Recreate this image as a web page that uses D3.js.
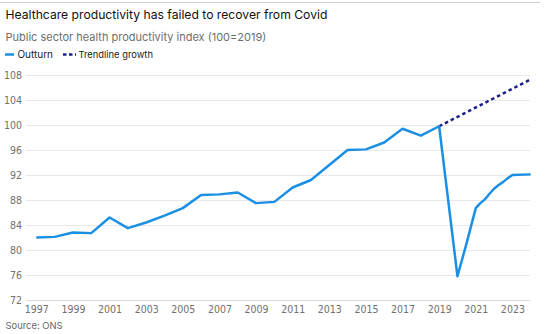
<!DOCTYPE html>
<html>
<head>
<meta charset="utf-8">
<script src="https://cdn.jsdelivr.net/npm/d3@7/dist/d3.min.js"></script>
<style>
  html, body { margin: 0; padding: 0; background: #fff; }
  svg { display: block; }
</style>
</head>
<body>
<svg id="chart" width="550" height="334"></svg>
<script>
// ---- Data ----
const outturnYears = [1997, 1998, 1999, 2000, 2001, 2002, 2003, 2004, 2005, 2006, 2007, 2008, 2009, 2010,
  2011, 2012, 2013, 2014, 2015, 2016, 2017, 2018, 2019, 2020, 2020.5, 2021, 2021.25, 2021.5,
  2021.75, 2022, 2022.25, 2022.5, 2022.75, 2023, 2024];
const outturnValues = [82.0, 82.1, 82.8, 82.7, 85.2, 83.5, 84.4, 85.5, 86.7, 88.8, 88.9, 89.2, 87.5, 87.7,
  90.0, 91.2, 93.6, 96.0, 96.1, 97.2, 99.4, 98.3, 99.8, 75.8, 81.1, 86.7, 87.5, 88.1,
  89.0, 89.8, 90.4, 90.9, 91.5, 92.0, 92.1];
const trendYears = [2019, 2024];
const trendValues = [99.8, 107.3];
const yTicks = [72, 76, 80, 84, 88, 92, 96, 100, 104, 108];
const xTicks = [1997, 1999, 2001, 2003, 2005, 2007, 2009, 2011, 2013, 2015, 2017, 2019, 2021, 2023];
const titleText = "Healthcare productivity has failed to recover from Covid";
const subtitleText = "Public sector health productivity index (100=2019)";
const legendLabels = ["Outturn", "Trendline growth"];
const sourceText = "Source: ONS";

// ---- Setup ----
const svg = d3.select("#chart");
const blue = "#1b8fe3";
const navy = "#1c1f8a";
const mainFont = "Inter, 'Open Sans', 'Liberation Sans', sans-serif";
const tickFont = "'Liberation Sans Narrow', 'DejaVu Sans Condensed', 'Liberation Sans', sans-serif";

function fitText(sel, targetWidth) {
  const node = sel.node();
  const fs = parseFloat(sel.attr("font-size"));
  const w = node.getComputedTextLength();
  if (w > 0) sel.attr("font-size", (fs * targetWidth / w).toFixed(2));
}

// top rule
svg.append("line").attr("x1", 0).attr("x2", 540).attr("y1", 2.5).attr("y2", 2.5)
  .attr("stroke", "#d0d0d0").attr("stroke-width", 1);

const title = svg.append("text").attr("x", 5.5).attr("y", 18.5)
  .attr("font-family", mainFont).attr("font-size", 13).attr("fill", "#111")
  .attr("font-weight", 400).text(titleText);
fitText(title, 322);

const subtitle = svg.append("text").attr("x", 5.5).attr("y", 40.5)
  .attr("font-family", mainFont).attr("font-size", 11).attr("fill", "#6e6e6e")
  .text(subtitleText);
fitText(subtitle, 261);

// legend
const lg = svg.append("g");
lg.append("line").attr("x1", 5).attr("x2", 14).attr("y1", 54.5).attr("y2", 54.5)
  .attr("stroke", blue).attr("stroke-width", 2.5);
const l1 = lg.append("text").attr("x", 17.5).attr("y", 58)
  .attr("font-family", mainFont).attr("font-size", 10).attr("fill", "#222").text(legendLabels[0]);
fitText(l1, 35.5);
lg.append("line").attr("x1", 63).attr("x2", 76).attr("y1", 54.5).attr("y2", 54.5)
  .attr("stroke", navy).attr("stroke-width", 2.5).attr("stroke-dasharray", "3.5,2.5");
const l2 = lg.append("text").attr("x", 78.5).attr("y", 58)
  .attr("font-family", mainFont).attr("font-size", 10).attr("fill", "#222").text(legendLabels[1]);
fitText(l2, 74.5);

// scales
const x = d3.scaleLinear().domain([1997, 2024]).range([36.3, 530.7]);
const y = d3.scaleLinear().domain([72, 108]).range([300, 75]);
const gridX0 = 26, gridX1 = 530;

// y grid + labels
const yAxis = d3.axisLeft(y).tickValues(yTicks).tickSize(0).tickPadding(0).tickFormat(d3.format("d"));
const yg = svg.append("g").attr("transform", `translate(${gridX0},0)`).call(yAxis);
yg.select(".domain").remove();
yg.selectAll(".tick line").attr("x1", 0).attr("x2", gridX1 - gridX0)
  .attr("stroke", d => d === 72 ? "#dcdcdc" : "#e8e8e8").attr("stroke-width", 1);
yg.selectAll(".tick text").attr("x", -4).attr("dy", "0.35em")
  .attr("font-family", tickFont).attr("font-size", 10.5).attr("fill", "#707070");

// x labels
const xAxis = d3.axisBottom(x).tickValues(xTicks).tickSize(0).tickPadding(0).tickFormat(d3.format("d"));
const xg = svg.append("g").attr("transform", `translate(0,300)`).call(xAxis);
xg.select(".domain").remove();
xg.selectAll(".tick text").attr("y", 6).attr("dy", "0.71em")
  .attr("font-family", tickFont).attr("font-size", 10.5).attr("fill", "#707070");

// lines
const line = d3.line().x(d => x(d[0])).y(d => y(d[1]));
const outturn = outturnYears.map((yr, i) => [yr, outturnValues[i]]);
const trend = trendYears.map((yr, i) => [yr, trendValues[i]]);

svg.append("path").datum(trend).attr("d", line).attr("fill", "none")
  .attr("stroke", navy).attr("stroke-width", 2.5).attr("stroke-dasharray", "3.5,3");
svg.append("path").datum(outturn).attr("d", line).attr("fill", "none")
  .attr("stroke", blue).attr("stroke-width", 2.5).attr("stroke-linejoin", "round");

// source
const src = svg.append("text").attr("x", 5.5).attr("y", 329)
  .attr("font-family", mainFont).attr("font-size", 10).attr("fill", "#666").text(sourceText);
fitText(src, 57);
</script>
</body>
</html>
